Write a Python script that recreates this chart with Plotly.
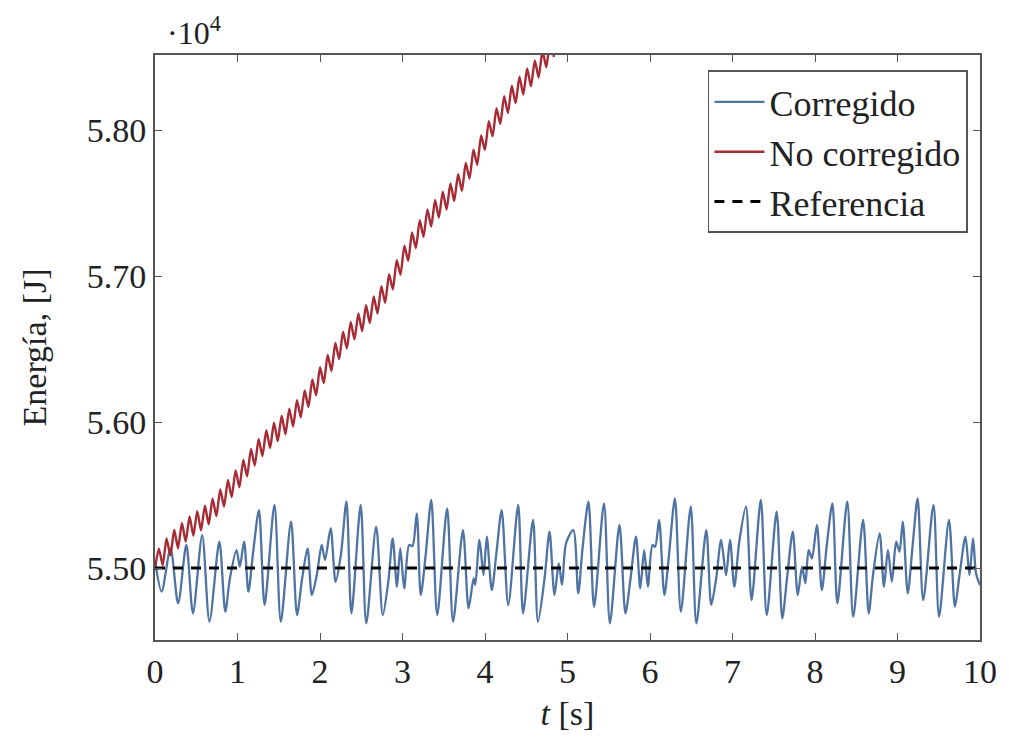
import plotly.graph_objects as go

# ---------------- data ----------------
blue_t = [0.000, 0.080, 0.188, 0.280, 0.380, 0.460, 0.572, 0.660, 0.780, 0.852, 0.908, 0.988,
          1.028, 1.080, 1.132, 1.188, 1.260, 1.328, 1.448, 1.525, 1.649, 1.721, 1.781, 1.849,
          1.901, 1.961, 2.021, 2.061, 2.129, 2.189, 2.253, 2.321, 2.381, 2.493, 2.561, 2.681,
          2.761, 2.829, 2.881, 2.933, 2.973, 3.021, 3.081, 3.121, 3.173, 3.221, 3.281, 3.349,
          3.421, 3.541, 3.613, 3.733, 3.801, 3.862, 3.882, 3.933, 3.982, 4.022, 4.082, 4.142,
          4.202, 4.282, 4.402, 4.462, 4.582, 4.642, 4.722, 4.782, 4.842, 4.894, 4.934, 4.982,
          5.070, 5.130, 5.182, 5.254, 5.322, 5.442, 5.514, 5.630, 5.702, 5.762, 5.830, 5.882,
          5.930, 5.974, 6.030, 6.062, 6.110, 6.174, 6.230, 6.302, 6.374, 6.494, 6.562, 6.682,
          6.742, 6.802, 6.862, 6.922, 6.970, 7.022, 7.082, 7.163, 7.231, 7.343, 7.415, 7.535,
          7.603, 7.663, 7.731, 7.791, 7.843, 7.883, 7.923, 7.963, 8.023, 8.083, 8.143, 8.211,
          8.271, 8.391, 8.463, 8.583, 8.651, 8.703, 8.783, 8.836, 8.884, 8.932, 8.984, 9.024,
          9.064, 9.124, 9.184, 9.244, 9.312, 9.436, 9.504, 9.624, 9.696, 9.752, 9.824, 9.872,
          9.916, 9.952, 10.000]
blue_E = [55050, 54838, 55135, 54758, 55158, 54690, 55226, 54632, 55180, 54701, 54929, 55123,
          55009, 55180, 54838, 55100, 55397, 54747, 55432, 54632, 55317, 54678, 54918, 55135,
          54815, 54952, 55158, 55055, 55272, 54906, 55089, 55454, 54690, 55432, 54621, 55283,
          54678, 54911, 55203, 54872, 55135, 54861, 55158, 55150, 55374, 54815, 55089, 55466,
          54678, 55409, 54632, 55260, 54724, 54929, 54884, 55192, 54952, 55215, 54849, 55123,
          55397, 54747, 55432, 54690, 55329, 54632, 54929, 55249, 54815, 55032, 54884, 55169,
          55260, 54827, 55135, 55454, 54735, 55443, 54621, 55295, 54690, 54918, 55215, 54861,
          55123, 54872, 55158, 55146, 55329, 54815, 55089, 55477, 54701, 55420, 54621, 55260,
          54747, 54929, 55192, 54952, 55192, 54872, 55180, 55420, 54781, 55466, 54678, 55386,
          54655, 54941, 55249, 54815, 55009, 54895, 55123, 55066, 55295, 54849, 55158, 55443,
          54758, 55454, 54667, 55329, 54690, 54952, 55237, 54872, 55123, 54906, 55180, 55112,
          55317, 54827, 55158, 55477, 54781, 55432, 54667, 55329, 54735, 54952, 55215, 54952,
          55203, 54963, 54884]

red_t = [0.000, 0.047, 0.093, 0.140, 0.186, 0.233, 0.279, 0.326, 0.372, 0.419, 0.465, 0.512,
         0.558, 0.605, 0.651, 0.698, 0.744, 0.791, 0.837, 0.884, 0.930, 0.977, 1.023, 1.070,
         1.116, 1.163, 1.209, 1.256, 1.302, 1.349, 1.395, 1.442, 1.488, 1.535, 1.581, 1.628,
         1.674, 1.721, 1.767, 1.814, 1.860, 1.907, 1.953, 2.000, 2.046, 2.093, 2.139, 2.186,
         2.232, 2.279, 2.325, 2.372, 2.418, 2.465, 2.511, 2.558, 2.604, 2.651, 2.697, 2.744,
         2.790, 2.837, 2.883, 2.930, 2.976, 3.023, 3.069, 3.116, 3.162, 3.209, 3.255, 3.302,
         3.348, 3.395, 3.441, 3.488, 3.534, 3.581, 3.627, 3.674, 3.720, 3.767, 3.813, 3.860,
         3.906, 3.953, 3.999, 4.046, 4.092, 4.139, 4.185, 4.232, 4.278, 4.325, 4.371, 4.418,
         4.464, 4.511, 4.557, 4.604, 4.650, 4.697, 4.743, 4.790, 4.836]
red_E = [55000, 55133, 55019, 55203, 55085, 55262, 55135, 55308, 55181, 55353, 55221, 55390,
         55258, 55427, 55300, 55474, 55356, 55539, 55421, 55604, 55486, 55669, 55553, 55741,
         55628, 55815, 55702, 55884, 55766, 55944, 55822, 55996, 55869, 56043, 55916, 56092,
         55969, 56150, 56032, 56216, 56103, 56291, 56183, 56375, 56266, 56459, 56350, 56542,
         56431, 56618, 56503, 56685, 56566, 56744, 56622, 56800, 56678, 56861, 56743, 56930,
         56817, 57012, 56908, 57108, 57009, 57208, 57104, 57299, 57191, 57382, 57269, 57456,
         57339, 57522, 57400, 57578, 57455, 57634, 57514, 57697, 57583, 57775, 57668, 57865,
         57762, 57963, 57864, 58061, 57957, 58150, 58042, 58231, 58117, 58303, 58185, 58366,
         58243, 58422, 58299, 58477, 58360, 58543, 58429, 58615, 58500]

ref_t = [0, 10]
ref_E = [55000, 55000]

y_tickvals = [55000, 56000, 57000, 58000]
y_ticktext = ["5.50", "5.60", "5.70", "5.80"]
x_tickvals = [0, 1, 2, 3, 4, 5, 6, 7, 8, 9, 10]
x_ticktext = ["0", "1", "2", "3", "4", "5", "6", "7", "8", "9", "10"]

FONT = "Liberation Serif"
AX_COLOR = "#555555"
TXT = "#222222"

fig = go.Figure()
fig.add_trace(go.Scatter(x=blue_t, y=blue_E, mode="lines", name="Corregido",
                         line=dict(color="#4f73a3", width=2.3, shape="spline", smoothing=0.8)))
fig.add_trace(go.Scatter(x=red_t, y=red_E, mode="lines", name="No corregido",
                         line=dict(color="#a82a35", width=2.4, shape="spline", smoothing=0.6)))
fig.add_trace(go.Scatter(x=ref_t, y=ref_E, mode="lines", name="Referencia",
                         line=dict(color="black", width=3, dash="10px,8px")))

axis_common = dict(showgrid=False, zeroline=False, showline=True, linecolor=AX_COLOR,
                   linewidth=1.8, mirror="ticks", ticks="inside", ticklen=7, tickwidth=1.3,
                   tickcolor=AX_COLOR, tickfont=dict(family=FONT, size=34, color=TXT))

fig.update_layout(
    width=1009, height=744,
    margin=dict(l=155, r=19, t=55, b=104),
    paper_bgcolor="white", plot_bgcolor="white",
    font=dict(family=FONT, size=34, color=TXT),
    xaxis=dict(range=[0, 10], tickvals=x_tickvals, ticktext=x_ticktext,
               title=dict(text="<i>t</i> [s]", font=dict(family=FONT, size=34, color=TXT),
                          standoff=12),
               **axis_common),
    yaxis=dict(range=[54507, 58514], tickvals=y_tickvals, ticktext=y_ticktext,
               title=dict(text="Energía, [J]", font=dict(family=FONT, size=34, color=TXT),
                          standoff=30),
               **axis_common),
    legend=dict(x=0.985, y=0.974, xanchor="right", yanchor="top",
                bgcolor="white", bordercolor=AX_COLOR, borderwidth=1.8,
                font=dict(family=FONT, size=36, color=TXT),
                tracegroupgap=0, itemwidth=50),
    showlegend=True,
)

fig.add_annotation(text="·10<sup>4</sup>", xref="paper", yref="paper", x=0.0, y=1.0,
                   xanchor="left", yanchor="bottom", yshift=2, xshift=10, showarrow=False,
                   font=dict(family=FONT, size=32, color=TXT))

fig.write_html("out.html")
